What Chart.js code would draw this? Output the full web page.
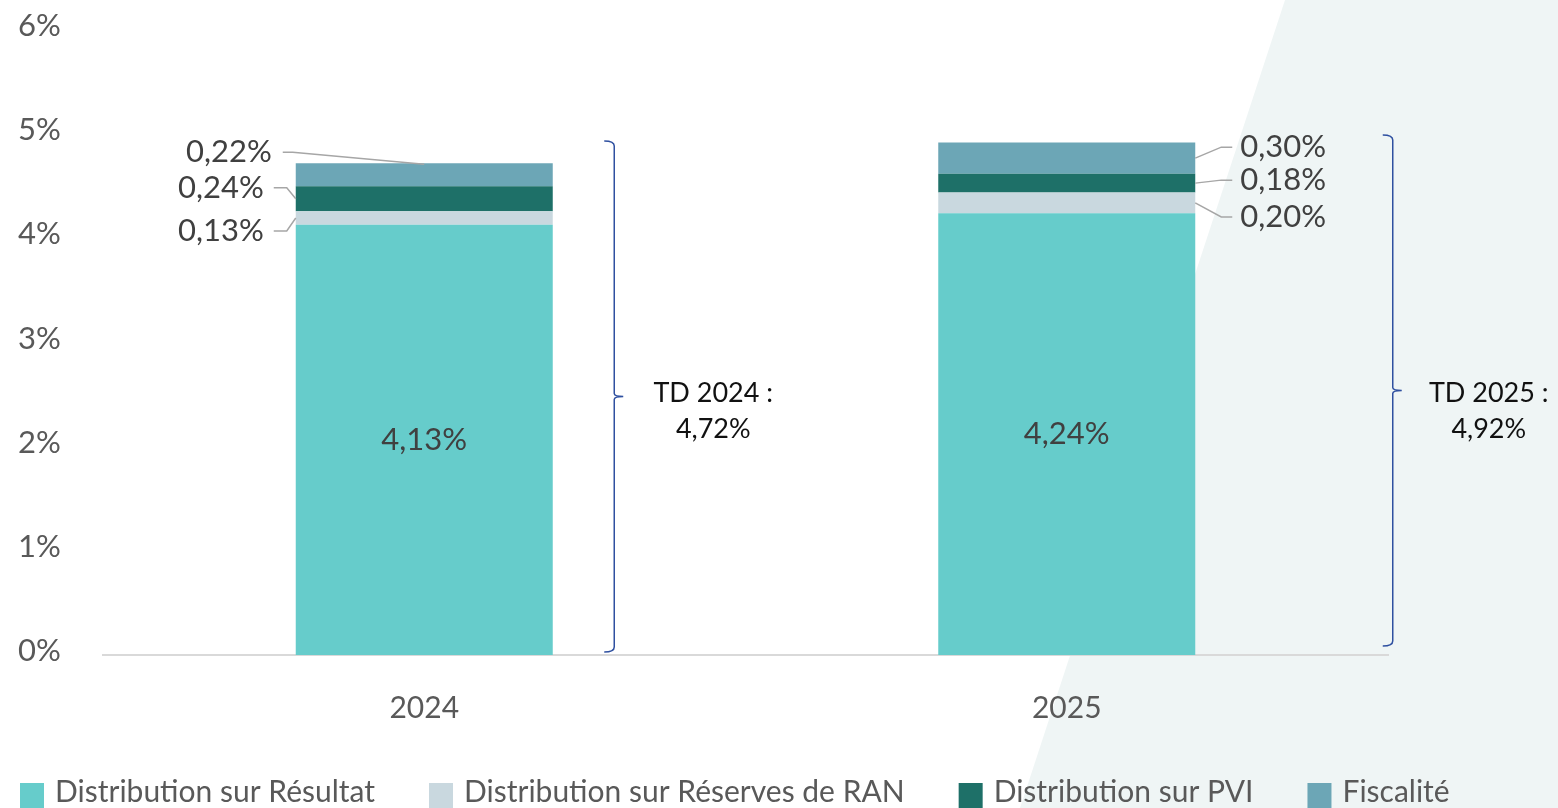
<!DOCTYPE html>
<html>
<head>
<meta charset="utf-8">
<script src="https://cdn.jsdelivr.net/npm/chart.js@4.4.1/dist/chart.umd.min.js"></script>
<style>
    html, body { margin: 0; padding: 0; background: #ffffff; }
    #wrap { width: 1558px; height: 808px; position: relative; }
</style>
</head>
<body>
<div id="wrap"><canvas id="tdChart" width="1558" height="808"></canvas></div>
<script>
// data
const categories = ['2024', '2025'];
const resultat = [4.13, 4.24];
const reserves = [0.13, 0.20];
const pvi = [0.24, 0.18];
const fiscalite = [0.22, 0.30];
const totalLabels = ['TD 2024 :', 'TD 2025 :'];
const totalValues = ['4,72%', '4,92%'];
const yTicks = [0, 1, 2, 3, 4, 5, 6];

const seriesNames = ['Distribution sur Résultat', 'Distribution sur Réserves de RAN', 'Distribution sur PVI', 'Fiscalité'];
const seriesColors = ['#66cccb', '#c9d8df', '#1e7068', '#6ca6b6'];

const FONT = 'Lato, "Open Sans", sans-serif';

function fmt(v) {
    return v.toFixed(2).replace('.', ',') + '%';
}

// light diagonal band on the right
const backgroundShape = {
    id: 'backgroundShape',
    beforeDraw(chart) {
        const ctx = chart.ctx;
        ctx.save();
        ctx.fillStyle = '#eff5f5';
        ctx.beginPath();
        ctx.moveTo(1285, 0);
        ctx.lineTo(chart.width, 0);
        ctx.lineTo(chart.width, chart.height);
        ctx.lineTo(1020, chart.height);
        ctx.closePath();
        ctx.fill();
        ctx.restore();
    }
};

// value labels, leader lines and the TD brackets
const annotations = {
    id: 'annotations',
    afterDatasetsDraw(chart) {
        const ctx = chart.ctx;
        const xScale = chart.scales.x;
        ctx.save();
        ctx.font = '31px ' + FONT;
        ctx.textBaseline = 'middle';

        categories.forEach((cat, i) => {
            const main = chart.getDatasetMeta(0).data[i];
            ctx.fillStyle = '#404040';
            ctx.textAlign = 'center';
            ctx.fillText(fmt(resultat[i]), main.x, (main.y + main.base) / 2);

            const small = [
                { d: 1, v: reserves[i] },
                { d: 2, v: pvi[i] },
                { d: 3, v: fiscalite[i] }
            ];
            ctx.strokeStyle = '#a6a6a6';
            ctx.lineWidth = 1.5;

            small.forEach(s => {
                const bar = chart.getDatasetMeta(s.d).data[i];
                const segY = (bar.y + bar.base) / 2;
                const left = bar.x - bar.width / 2;
                const right = bar.x + bar.width / 2;
                ctx.beginPath();
                if (i === 0) {
                    // labels on the left of the first bar
                    if (s.d === 3) {
                        const ly = bar.y - 11;
                        ctx.moveTo(left - 13, ly);
                        ctx.lineTo(left - 3, ly);
                        ctx.lineTo(bar.x, bar.y + 1);
                        ctx.stroke();
                        ctx.textAlign = 'right';
                        ctx.fillText(fmt(s.v), left - 24, ly);
                    } else {
                        const ly = segY + (s.d === 1 ? 13 : -11);
                        ctx.moveTo(left - 22, ly);
                        ctx.lineTo(left - 9, ly);
                        ctx.lineTo(left, segY);
                        ctx.stroke();
                        ctx.textAlign = 'right';
                        ctx.fillText(fmt(s.v), left - 32, ly);
                    }
                } else {
                    // labels on the right of the second bar
                    const off = s.d === 1 ? 14 : (s.d === 2 ? -3 : -11);
                    const ly = segY + off;
                    ctx.moveTo(right, segY);
                    ctx.lineTo(right + 26, ly);
                    ctx.lineTo(right + 37, ly);
                    ctx.stroke();
                    ctx.textAlign = 'left';
                    ctx.fillText(fmt(s.v), right + 45, ly);
                }
            });
        });

        // brackets
        const brackets = [
            { dx: 190, tx: 289, top: 141, bottom: 652 },
            { dx: 326, tx: 422, top: 135, bottom: 646 }
        ];
        brackets.forEach((b, i) => {
            const cx = xScale.getPixelForValue(i);
            const x = cx + b.dx;
            const mid = (b.top + b.bottom) / 2;
            ctx.strokeStyle = '#2f50a0';
            ctx.lineWidth = 1.5;
            ctx.beginPath();
            ctx.moveTo(x - 10, b.top);
            ctx.quadraticCurveTo(x, b.top, x, b.top + 5);
            ctx.lineTo(x, mid - 3);
            ctx.quadraticCurveTo(x, mid, x + 9, mid);
            ctx.moveTo(x + 9, mid);
            ctx.quadraticCurveTo(x, mid, x, mid + 3);
            ctx.lineTo(x, b.bottom - 5);
            ctx.quadraticCurveTo(x, b.bottom, x - 10, b.bottom);
            ctx.stroke();

            ctx.fillStyle = '#111111';
            ctx.font = '27px ' + FONT;
            ctx.textAlign = 'center';
            ctx.fillText(totalLabels[i], cx + b.tx, 393);
            ctx.fillText(totalValues[i], cx + b.tx, 429);
        });
        ctx.restore();
    }
};

// legend along the bottom edge
const bottomLegend = {
    id: 'bottomLegend',
    afterDraw(chart) {
        const ctx = chart.ctx;
        ctx.save();
        ctx.font = '30px ' + FONT;
        ctx.textBaseline = 'middle';
        ctx.textAlign = 'left';
        let x = 20;
        chart.data.datasets.forEach(ds => {
            ctx.fillStyle = ds.backgroundColor;
            ctx.fillRect(x, 783, 24, 25);
            ctx.fillStyle = '#595959';
            ctx.fillText(ds.label, x + 35, 792);
            x += 35 + ctx.measureText(ds.label).width + 54;
        });
        ctx.restore();
    }
};

const ctx = document.getElementById('tdChart');

new Chart(ctx, {
    type: 'bar',
    data: {
        labels: categories,
        datasets: [
            { label: seriesNames[0], data: resultat, backgroundColor: seriesColors[0] },
            { label: seriesNames[1], data: reserves, backgroundColor: seriesColors[1] },
            { label: seriesNames[2], data: pvi, backgroundColor: seriesColors[2] },
            { label: seriesNames[3], data: fiscalite, backgroundColor: seriesColors[3] }
        ]
    },
    options: {
        responsive: false,
        animation: false,
        layout: {
            padding: { left: 18, right: 170, top: 30, bottom: 0 }
        },
        datasets: {
            bar: { categoryPercentage: 1, barPercentage: 0.4, borderWidth: 0 }
        },
        plugins: {
            legend: { display: false },
            tooltip: { enabled: false }
        },
        scales: {
            x: {
                stacked: true,
                grid: { display: false, drawTicks: false },
                border: { display: true, color: '#d9d9d9', width: 2 },
                ticks: {
                    color: '#595959',
                    font: { family: FONT, size: 30 },
                    padding: 35
                },
                afterFit(axis) { axis.height = 153; }
            },
            y: {
                stacked: true,
                min: 0,
                max: 6,
                afterBuildTicks(axis) {
                    axis.ticks = yTicks.map(v => ({ value: v }));
                },
                grid: { display: false, drawTicks: false },
                border: { display: false },
                ticks: {
                    color: '#595959',
                    font: { family: FONT, size: 31 },
                    padding: 0,
                    crossAlign: 'far',
                    labelOffset: -4,
                    callback: v => v + '%'
                },
                afterFit(axis) { axis.width = 85; }
            }
        }
    },
    plugins: [backgroundShape, annotations, bottomLegend]
});
</script>
</body>
</html>
